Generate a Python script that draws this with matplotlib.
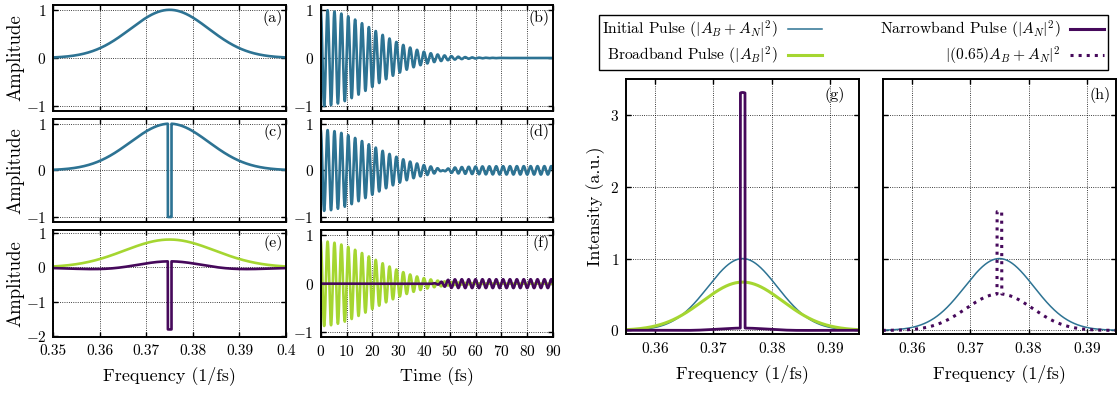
import numpy as np
import matplotlib.pyplot as plt
from matplotlib.lines import Line2D

# spectral shape (a), (c), (e)
center_freq = 0.375
initial_width = 0.0084
broad_peak = 0.82
broad_width = 0.0097
notch_edges = [0.3746, 0.3754]
h_scale = 0.65

# time-domain shape (b), (d), (f)
carrier_freq = 0.375
pulse_width = 19.8
broad_time_peak = 0.87
narrow_amp = 0.09
turn_on = [47.0, 2.5]   # centre, rise (fs)

freq_ticks = [0.35, 0.36, 0.37, 0.38, 0.39, 0.40]
freq_tick_labels = ["0.35", "0.36", "0.37", "0.38", "0.39", "0.4"]
zoom_ticks = [0.36, 0.37, 0.38, 0.39]
time_ticks = [0, 10, 20, 30, 40, 50, 60, 70, 80, 90]
amp_ticks = [-1, 0, 1]
amp_ticks_e = [-2, -1, 0, 1]
int_ticks = [0, 1, 2, 3]

legend_labels = [r"Initial Pulse ($|A_B + A_N|^2$)",
                 r"Broadband Pulse ($|A_B|^2$)",
                 r"Narrowband Pulse ($|A_N|^2$)",
                 r"$|(0.65)A_B + A_N|^2$"]

BLUE = "#2d7393"
GREEN = "#a5d631"
PURPLE = "#46095b"

plt.rcParams["font.family"] = "cmr10"
plt.rcParams["mathtext.fontset"] = "cm"
plt.rcParams["axes.formatter.use_mathtext"] = True

# spectra
f = np.linspace(0.35, 0.40, 20001)
gauss = np.exp(-(f - center_freq) ** 2 / (2 * initial_width ** 2))
inside = (f >= notch_edges[0]) & (f <= notch_edges[1])
spec_init = np.where(inside, -gauss, gauss)
spec_broad = broad_peak * np.exp(-(f - center_freq) ** 2 / (2 * broad_width ** 2))
spec_narrow = spec_init - spec_broad

# time signals
t = np.linspace(0, 90, 6000)
carrier = np.cos(2 * np.pi * carrier_freq * t)
env = np.exp(-t ** 2 / (2 * pulse_width ** 2))
sig_b = env * carrier
sig_broad = broad_time_peak * env * carrier
sig_narrow = -narrow_amp * 0.5 * (1 + np.tanh((t - turn_on[0]) / turn_on[1])) * carrier
sig_d = sig_broad + sig_narrow

W, H = 1118, 396
fig = plt.figure(figsize=(W / 100, H / 100), dpi=100)


def px_axes(left, right, top, bottom):
    return fig.add_axes([left / W, 1 - bottom / H, (right - left) / W, (bottom - top) / H])


def style(ax):
    ax.tick_params(direction="in", top=True, right=True, length=3.5, width=1,
                   labelsize=11, pad=5)
    ax.grid(True, ls=":", color="k", lw=0.6)
    for s in ax.spines.values():
        s.set_linewidth(1.4)


rows = [(5, 111), (119, 221.7), (230, 337.3)]
ax_a = px_axes(53.3, 286, *rows[0])
ax_c = px_axes(53.3, 286, *rows[1])
ax_e = px_axes(53.3, 286, *rows[2])
ax_b = px_axes(320.7, 553, *rows[0])
ax_d = px_axes(320.7, 553, *rows[1])
ax_f = px_axes(320.7, 553, *rows[2])
ax_g = px_axes(626, 859.3, 79, 334)
ax_h = px_axes(882.7, 1116, 79, 334)

lw = 1.9
ax_a.plot(f, gauss, color=BLUE, lw=lw)
ax_c.plot(f, spec_init, color=BLUE, lw=lw)
ax_e.plot(f, spec_broad, color=GREEN, lw=lw)
ax_e.plot(f, spec_narrow, color=PURPLE, lw=lw)

ax_b.plot(t, sig_b, color=BLUE, lw=lw)
ax_d.plot(t, sig_d, color=BLUE, lw=lw)
ax_f.plot(t, sig_broad, color=GREEN, lw=lw)
ax_f.plot(t, sig_narrow, color=PURPLE, lw=lw)

ax_g.plot(f, spec_init ** 2, color=BLUE, lw=1.1)
ax_g.plot(f, spec_broad ** 2, color=GREEN, lw=2.2)
ax_g.plot(f, spec_narrow ** 2, color=PURPLE, lw=2.0)
ax_h.plot(f, spec_init ** 2, color=BLUE, lw=1.1)
ax_h.plot(f, (h_scale * spec_broad + spec_narrow) ** 2, color=PURPLE, lw=2.2, ls=":")

for ax in (ax_a, ax_c, ax_e):
    style(ax)
    ax.set_xlim(0.35, 0.40)
    ax.set_xticks(freq_ticks)
    ax.set_xticklabels(freq_tick_labels)
    ax.set_ylabel("Amplitude", fontsize=13.5)
    ax.yaxis.set_label_coords(-0.125, 0.5)
for ax in (ax_b, ax_d, ax_f):
    style(ax)
    ax.set_xlim(0, 90)
    ax.set_xticks(time_ticks)
for ax in (ax_a, ax_c, ax_b, ax_d, ax_f):
    ax.set_ylim(-1.1, 1.1)
    ax.set_yticks(amp_ticks)
ax_e.set_ylim(-2.05, 1.1)
ax_e.set_yticks(amp_ticks_e)
for ax in (ax_a, ax_c, ax_b, ax_d):
    ax.tick_params(labelbottom=False)

ax_e.set_xlabel("Frequency (1/fs)", fontsize=13, labelpad=6)
ax_f.set_xlabel("Time (fs)", fontsize=13, labelpad=6)

for ax in (ax_g, ax_h):
    style(ax)
    ax.set_xlim(0.355, 0.395)
    ax.set_xticks(zoom_ticks)
    ax.set_ylim(-0.05, 3.5)
    ax.set_yticks(int_ticks)
    ax.set_xlabel("Frequency (1/fs)", fontsize=13, labelpad=6)
ax_h.tick_params(labelleft=False)
ax_g.set_ylabel("Intensity (a.u.)", fontsize=13)
ax_g.yaxis.set_label_coords(-0.09, 0.5)

for ax, lab in zip((ax_a, ax_b, ax_c, ax_d, ax_e, ax_f), "abcdef"):
    ax.text(0.985, 0.95, "(%s)" % lab, transform=ax.transAxes,
            ha="right", va="top", fontsize=11.5)
ax_g.text(0.94, 0.97, "(g)", transform=ax_g.transAxes, ha="right", va="top", fontsize=11.5)
ax_h.text(0.975, 0.97, "(h)", transform=ax_h.transAxes, ha="right", va="top", fontsize=11.5)

handles = [Line2D([], [], color=BLUE, lw=1.1),
           Line2D([], [], color=GREEN, lw=2.2),
           Line2D([], [], color=PURPLE, lw=2.2),
           Line2D([], [], color=PURPLE, lw=2.2, ls=":")]
leg = fig.legend(handles, legend_labels, ncol=2, loc="upper left",
                 bbox_to_anchor=(599 / W, 1 - 68.3 / H, 508.7 / W, 53.3 / H),
                 mode="expand", borderaxespad=0, markerfirst=False,
                 fancybox=False, fontsize=11.2, handlelength=2.2, handletextpad=0.6,
                 labelspacing=0.25, borderpad=0.22, framealpha=1)
leg.get_frame().set_edgecolor("k")
leg.get_frame().set_linewidth(1.0)

fig.savefig("out.png", dpi=100)
